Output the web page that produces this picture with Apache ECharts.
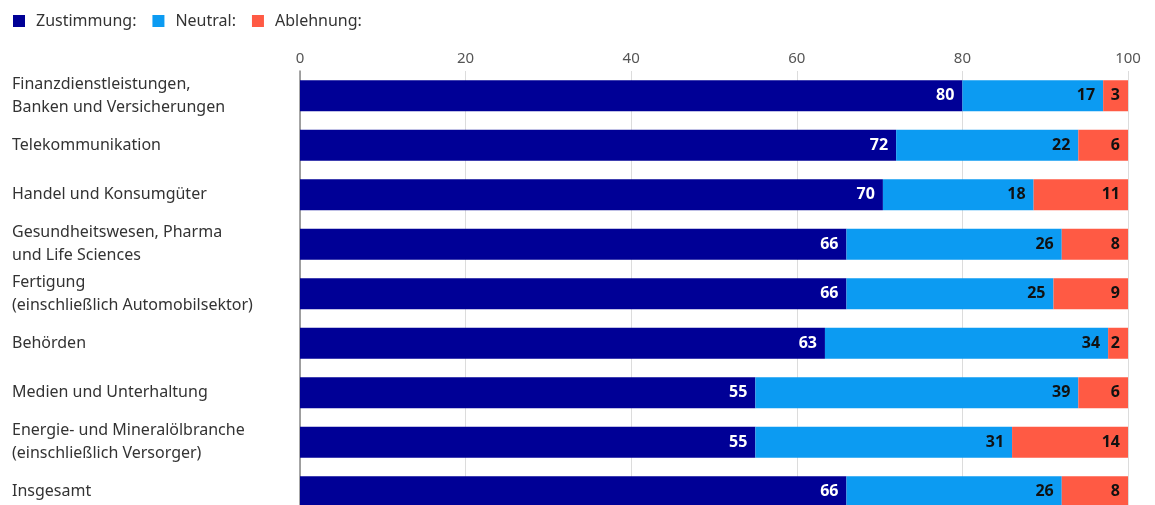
<!DOCTYPE html>
<html><head><meta charset="utf-8">
<script src="https://cdn.jsdelivr.net/npm/echarts@6/dist/echarts.min.js"></script>
<style>html,body{margin:0;padding:0;background:#fff;overflow:hidden}#c{width:1155px;height:520px}</style>
</head><body><div id="c"></div>
<script>
const categories = [
  "Finanzdienstleistungen,\nBanken und Versicherungen",
  "Telekommunikation",
  "Handel und Konsumgüter",
  "Gesundheitswesen, Pharma\nund Life Sciences",
  "Fertigung\n(einschließlich Automobilsektor)",
  "Behörden",
  "Medien und Unterhaltung",
  "Energie- und Mineralölbranche\n(einschließlich Versorger)",
  "Insgesamt"
];
const zustimmung = [80, 72, 70.4, 66, 66, 63.4, 55, 55, 66];
const neutral    = [17, 22, 18.2, 26, 25, 34.2, 39, 31, 26];
const ablehnung  = [3, 6, 11.4, 8, 9, 2.4, 6, 14, 8];
const xTicks = [0, 20, 40, 60, 80, 100];

const FONT = "Noto Sans";
const chart = echarts.init(document.getElementById('c'));
function lab(color) {
  return {show: true, position: 'insideRight', distance: 8, color: color,
    fontFamily: FONT, fontWeight: 'bold', fontSize: 16,
    formatter: p => Math.round(p.value)};
}
chart.setOption({
  animation: false,
  textStyle: {fontFamily: FONT},
  legend: {left: 8, top: 8, itemWidth: 12, itemHeight: 12, itemGap: 16, icon: 'rect',
    textStyle: {fontFamily: FONT, fontSize: 16, color: '#333', padding: [0, 0, 0, 6]},
    formatter: n => n + ':',
    data: ['Zustimmung', 'Neutral', 'Ablehnung']},
  grid: {left: 300, right: 27, top: 71, height: 445.5, containLabel: false},
  xAxis: {type: 'value', position: 'top', min: xTicks[0], max: xTicks[xTicks.length-1], interval: 20,
    axisLine: {show: false}, axisTick: {show: false},
    splitLine: {show: true, lineStyle: {color: '#dcdcdc', width: 1}},
    axisLabel: {fontFamily: FONT, fontSize: 15, color: '#555', margin: 5}},
  yAxis: {type: 'category', inverse: true, data: categories,
    axisLine: {show: true, lineStyle: {color: '#888', width: 1.5}}, axisTick: {show: false},
    axisLabel: {align: 'left', margin: 288, fontFamily: FONT, fontSize: 16, color: '#333', lineHeight: 23}},
  series: [
    {name: 'Zustimmung', type: 'bar', stack: 's', data: zustimmung, barWidth: 31, itemStyle: {color: '#000096'}, label: lab('#fff')},
    {name: 'Neutral', type: 'bar', stack: 's', data: neutral, barWidth: 31, itemStyle: {color: '#0c9bf2'}, label: lab('#111')},
    {name: 'Ablehnung', type: 'bar', stack: 's', data: ablehnung, barWidth: 31, itemStyle: {color: '#ff5a44'}, label: lab('#111')}
  ]
});
</script></body></html>
